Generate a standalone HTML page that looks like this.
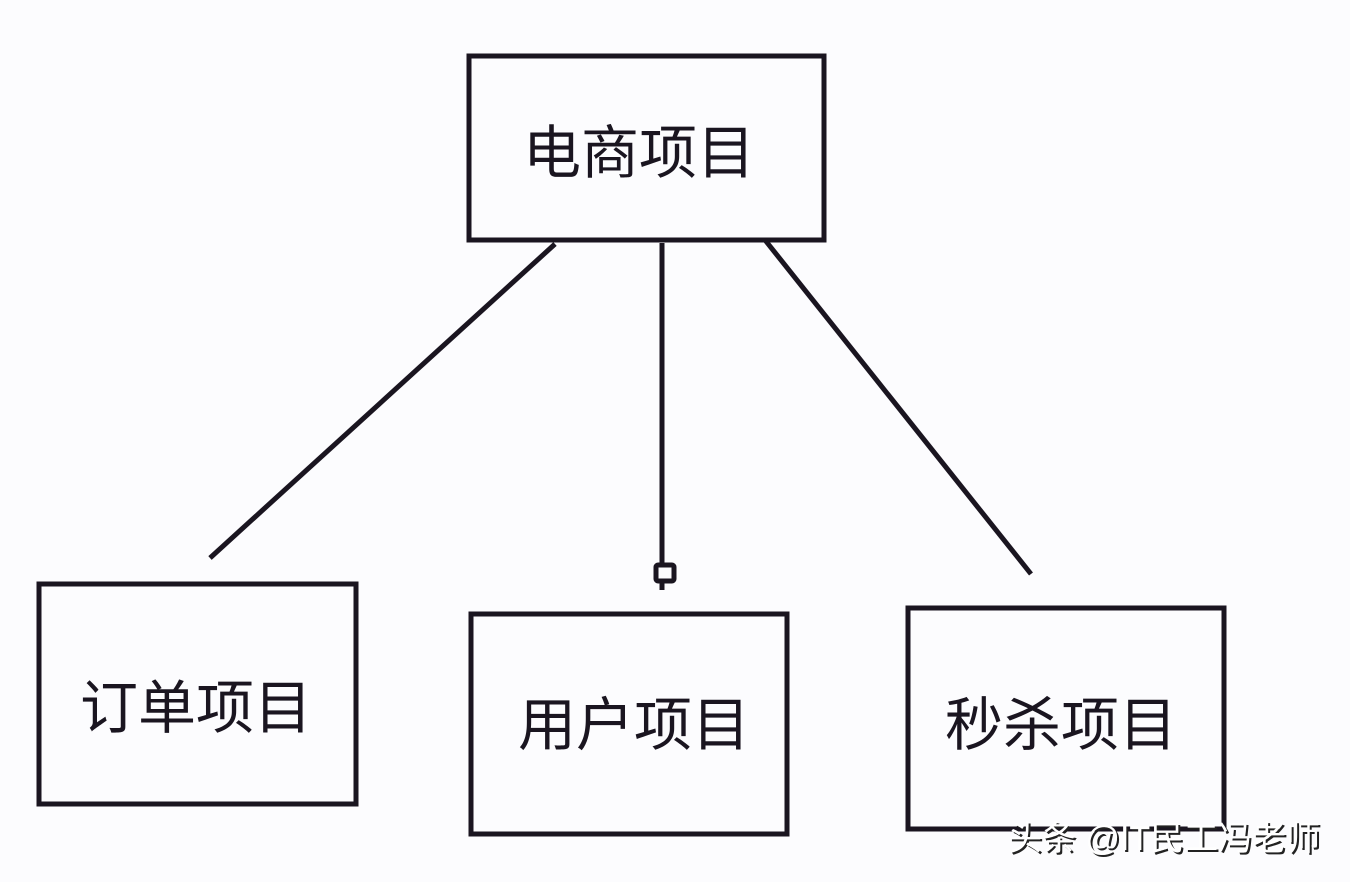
<!DOCTYPE html>
<html><head><meta charset="utf-8"><style>
html,body{margin:0;padding:0;background:#fcfcfe;}
svg{display:block}
text{font-family:"Liberation Sans","Noto Sans CJK SC",sans-serif;}
</style></head><body>
<svg width="1350" height="882" viewBox="0 0 1350 882" xmlns="http://www.w3.org/2000/svg">
<rect width="1350" height="882" fill="#fcfcfe"/>
<g fill="none" stroke="#1a1520" stroke-width="5">
<rect x="469" y="56" width="355" height="184"/>
<rect x="39" y="584" width="317" height="220"/>
<rect x="471" y="614" width="316" height="220"/>
<rect x="908" y="608" width="316" height="221"/>
<line x1="555" y1="244" x2="210" y2="558"/>
<line x1="662" y1="243" x2="662" y2="565"/>
<rect x="656" y="565" width="18" height="16" rx="2"/>
<line x1="662" y1="581" x2="662" y2="590"/>
<line x1="765" y1="240" x2="1031" y2="574"/>
</g>
<g fill="#1a1520" font-size="58" text-anchor="middle">
<text x="639" y="173">电商项目</text>
<text x="196" y="728">订单项目</text>
<text x="634" y="745">用户项目</text>
<text x="1061" y="745">秒杀项目</text>
</g>
<g font-size="34" text-anchor="start">
<text x="1010" y="852" fill="#222">头条 @IT民工冯老师</text>
<text x="1008" y="850" fill="#fff">头条 @IT民工冯老师</text>
</g>
</svg>
</body></html>
